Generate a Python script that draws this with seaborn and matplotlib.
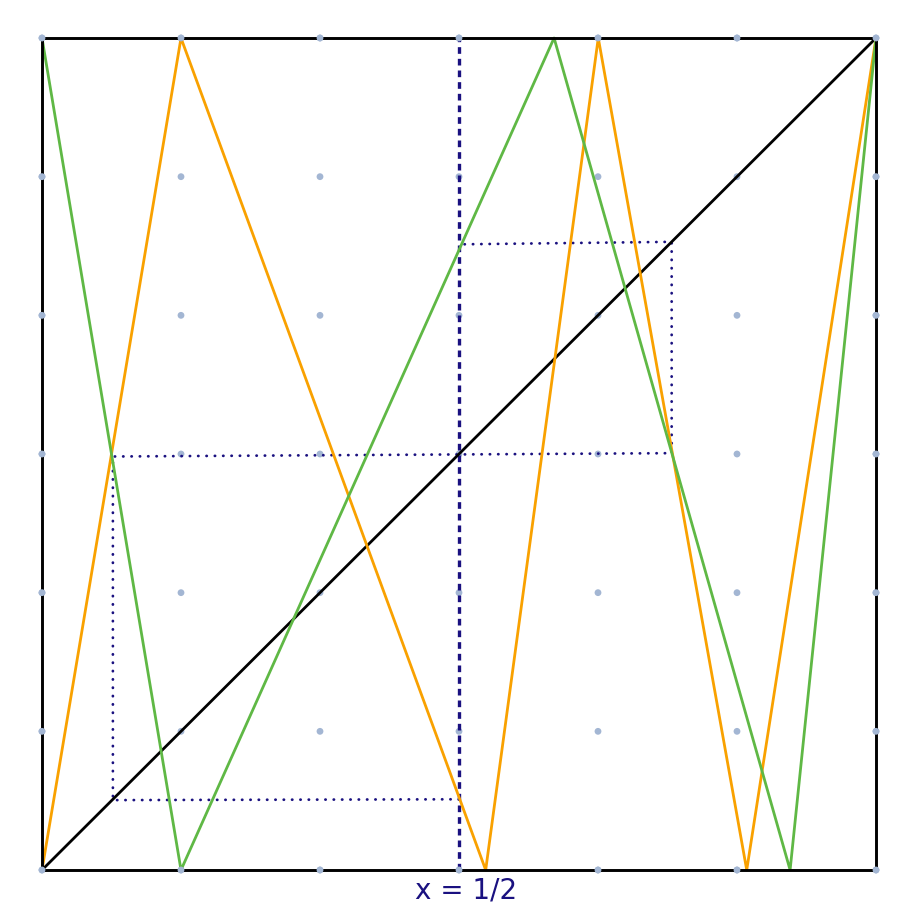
import matplotlib
matplotlib.use("Agg")
import matplotlib.pyplot as plt
import seaborn as sns
import pandas as pd

# breakpoints (unit square)
green_x = [0.0, 1 / 6, 0.614, 0.897, 1.0]
green_y = [1.0, 0.0, 1.0, 0.0, 1.0]
orange_x = [0.0, 1 / 6, 0.532, 0.667, 0.845, 1.0]
orange_y = [0.0, 1.0, 0.0, 1.0, 0.0, 1.0]
diag_x = [0.0, 1.0]
diag_y = [0.0, 1.0]

# dotted cobweb-like boxes
box_x = [0.5, 0.085, 0.085, 0.755, 0.755, 0.5]
box_y = [0.085, 0.084, 0.497, 0.501, 0.755, 0.752]

frame_x = [0, 1, 1, 0, 0]
frame_y = [0, 0, 1, 1, 0]

grid_steps = [i / 6 for i in range(7)]

navy = "#1a1180"
orange = "#f9a100"
green = "#5fb845"

sns.set_style("white")
fig = plt.figure(figsize=(9.23, 9.16), dpi=100)
ax = fig.add_axes([42 / 923, 46 / 916, 834 / 923, 832 / 916])
ax.set_xlim(0, 1)
ax.set_ylim(0, 1)
ax.axis("off")

dots = pd.DataFrame([(gx, gy) for gx in grid_steps for gy in grid_steps], columns=["x", "y"])

def poly(xs, ys, **kw):
    df = pd.DataFrame({"x": xs, "y": ys})
    sns.lineplot(data=df, x="x", y="y", sort=False, estimator=None, ax=ax, **kw)
    return ax.lines[-1]

sns.scatterplot(data=dots, x="x", y="y", color="#a3b6d3", s=24, edgecolor="none",
                ax=ax, zorder=1, clip_on=False)

dotted = poly(box_x, box_y, color=navy, lw=2.0, linestyle=(0, (0.1, 2.9)), zorder=2)
dotted.set_dash_capstyle("round")
poly([0.5, 0.5], [0, 1], color=navy, lw=2.4, linestyle=(0, (2.0, 1.5)), zorder=3)
poly(diag_x, diag_y, color="black", lw=2.0, zorder=4)
poly(orange_x, orange_y, color=orange, lw=2.0, zorder=5)
poly(green_x, green_y, color=green, lw=2.0, zorder=6)
poly(frame_x, frame_y, color="black", lw=2.1, zorder=7)

# grid dots sit on top of the frame line
edge = dots[(dots.x == 0) | (dots.x == 1) | (dots.y == 0) | (dots.y == 1)]
sns.scatterplot(data=edge, x="x", y="y", color="#a3b6d3", s=24, edgecolor="none",
                ax=ax, zorder=8, clip_on=False)

for line in ax.lines:
    line.set_clip_on(False)
    line.set_solid_capstyle("round")

ax.text(0.508, -0.025, "x = 1/2", color=navy, fontsize=20, ha="center", va="center")

fig.savefig("out.png", dpi=100)
